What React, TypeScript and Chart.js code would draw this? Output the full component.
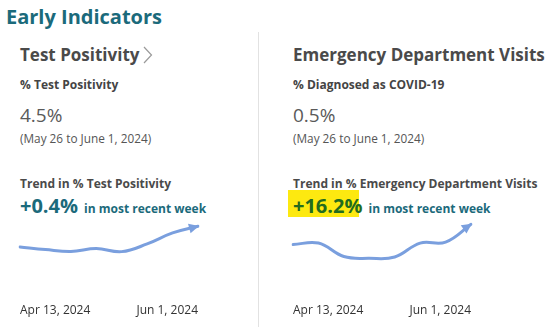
import React, { useEffect, useRef } from 'react';
import { Chart, registerables } from 'chart.js';

Chart.register(...registerables);

// ---- data ----
const weeks = [
  'Apr 13, 2024', 'Apr 20, 2024', 'Apr 27, 2024', 'May 4, 2024',
  'May 11, 2024', 'May 18, 2024', 'May 25, 2024', 'Jun 1, 2024',
];
const testPositivity = [3.42, 3.29, 3.19, 3.34, 3.18, 3.58, 4.15, 4.5];
const edVisits = [0.42, 0.426, 0.373, 0.366, 0.371, 0.426, 0.43, 0.5];
const testRange = [0.69, 5.6];
const edRange = [0.2034, 0.576];

const FONT = '"Open Sans", "Noto Sans", sans-serif';
const LINE = '#7a9fde';
const TEAL = '#1b6a7b';

const arrowPlugin = {
  id: 'arrowEnd',
  afterDatasetsDraw(chart: any) {
    const ctx = chart.ctx;
    chart.data.datasets.forEach((ds: any, i: number) => {
      const pts = chart.getDatasetMeta(i).data;
      const n = pts.length;
      if (n < 2) return;
      const p = pts[n - 1];
      let cx = p.cp1x, cy = p.cp1y;
      if (cx == null || (Math.abs(cx - p.x) < 0.5 && Math.abs(cy - p.y) < 0.5)) {
        cx = pts[n - 2].x; cy = pts[n - 2].y;
      }
      const a = Math.atan2(p.y - cy, p.x - cx);
      const dx = Math.cos(a), dy = Math.sin(a);
      const len = 10, hw = 5;
      const tx = p.x + dx * 1, ty = p.y + dy * 1;
      const bx = tx - dx * len, by = ty - dy * len;
      ctx.save();
      ctx.fillStyle = ds.borderColor;
      ctx.beginPath();
      ctx.moveTo(tx, ty);
      ctx.lineTo(bx - dy * hw, by + dx * hw);
      ctx.lineTo(bx + dy * hw, by - dx * hw);
      ctx.closePath();
      ctx.fill();
      ctx.restore();
    });
  },
};

function Spark({ values, range, left }: { values: number[]; range: number[]; left: number }) {
  const ref = useRef<HTMLCanvasElement>(null);
  useEffect(() => {
    const chart = new Chart(ref.current as HTMLCanvasElement, {
      type: 'line',
      data: {
        labels: weeks,
        datasets: [{
          data: values, borderColor: LINE, backgroundColor: LINE, borderWidth: 3,
          tension: 0.4, pointRadius: 0, fill: false, borderCapStyle: 'round',
        }],
      },
      options: {
        animation: false,
        responsive: false,
        maintainAspectRatio: false,
        layout: { padding: { left: 20, right: 32, top: 0, bottom: 5 } },
        plugins: { legend: { display: false }, tooltip: { enabled: false } },
        scales: {
          x: {
            grid: { display: false, drawTicks: false },
            border: { display: false },
            ticks: {
              autoSkip: false, maxRotation: 0, align: 'inner', padding: 4,
              color: '#333', font: { size: 12, family: FONT },
              callback: (_v: any, i: number, ticks: any[]) =>
                i === 0 || i === ticks.length - 1 ? weeks[i] : '',
            },
          },
          y: { display: false, min: range[0], max: range[1] },
        },
      } as any,
      plugins: [arrowPlugin],
    });
    return () => chart.destroy();
  }, []);
  return (
    <canvas ref={ref} width={230} height={122}
      style={{ position: 'absolute', left, top: 205, width: 230, height: 122 }} />
  );
}

function T({ x, b, size, weight = 400, color = '#4d4d4d', children }: any) {
  return (
    <div style={{
      position: 'absolute', left: x, top: b - 0.888 * size, fontSize: size,
      lineHeight: `${size}px`, fontWeight: weight, color, whiteSpace: 'nowrap', fontFamily: FONT,
    }}>{children}</div>
  );
}

function Panel({ x, title, chevron, sub, value, trendLabel, change, highlight, values, range }: any) {
  return (
    <>
      <T x={x} b={61} size={17} weight={700} color="#4a4a4a">{title}</T>
      {chevron && (
        <svg style={{ position: 'absolute', left: 0, top: 0 }} width={550} height={80}>
          <polyline points="144,47 151.5,55 144,63" fill="none" stroke="#9a9a9a" strokeWidth={1.2} />
        </svg>
      )}
      <T x={x} b={89.3} size={12} weight={700} color="#444">{sub}</T>
      <T x={x} b={123.3} size={19} weight={400} color="#5a5a5a">{value}</T>
      <T x={x} b={143.3} size={11.8} weight={400} color="#555">(May 26 to June 1, 2024)</T>
      <T x={x} b={188.3} size={12} weight={700} color="#4a4a4a">{trendLabel}</T>
      {highlight && (
        <div style={{ position: 'absolute', left: x - 5, top: 190, width: 71, height: 27, background: '#fde910' }} />
      )}
      <T x={x} b={213.3} size={20} weight={700} color={highlight ? '#236b1e' : TEAL}>
        {change}
        <span style={{ fontSize: 12, marginLeft: 6, color: TEAL }}>in most recent week</span>
      </T>
      <Spark values={values} range={range} left={x - 20} />
    </>
  );
}

export default function App() {
  return (
    <div style={{ position: 'absolute', left: 0, top: 0, width: 550, height: 327, background: '#fff', overflow: 'hidden', fontFamily: FONT }}>
      <T x={6} b={25} size={20} weight={700} color={TEAL}>Early Indicators</T>
      <div style={{ position: 'absolute', left: 258, top: 32, width: 1, height: 295, background: '#e2e2e2' }} />
      <Panel x={20} title="Test Positivity" chevron sub="% Test Positivity" value="4.5%"
        trendLabel="Trend in % Test Positivity" change="+0.4%" values={testPositivity} range={testRange} />
      <Panel x={293} title="Emergency Department Visits" sub="% Diagnosed as COVID-19" value="0.5%"
        trendLabel="Trend in % Emergency Department Visits" change="+16.2%" highlight values={edVisits} range={edRange} />
    </div>
  );
}
